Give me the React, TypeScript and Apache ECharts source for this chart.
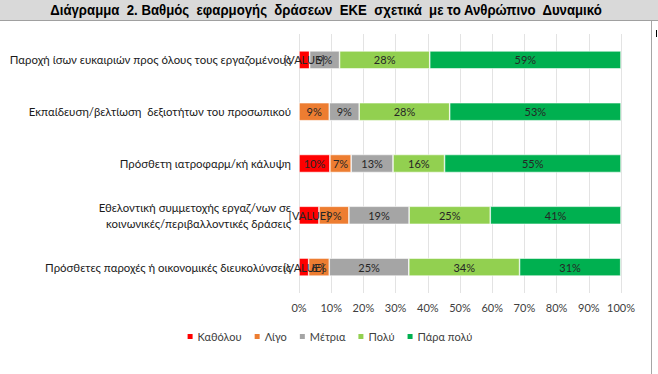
import React, { useEffect, useRef } from "react";
import * as echarts from "echarts";

const titleText = "Διάγραμμα  2. Βαθμός  εφαρμογής  δράσεων  ΕΚΕ  σχετικά  με το Ανθρώπινο  Δυναμικό";

const categories = [
  "Παροχή ίσων ευκαιριών προς όλους τους εργαζομένους",
  "Εκπαίδευση/βελτίωση  δεξιοτήτων του προσωπικού",
  "Πρόσθετη ιατροφαρμ/κή κάλυψη",
  "Εθελοντική συμμετοχής εργαζ/νων σε\nκοινωνικές/περιβαλλοντικές δράσεις",
  "Πρόσθετες παροχές ή οικονομικές διευκολύνσεις",
];

const seriesNames = ["Καθόλου", "Λίγο", "Μέτρια", "Πολύ", "Πάρα πολύ"];
const seriesColors = ["#FF0000", "#ED7D31", "#A5A5A5", "#92D050", "#00B050"];

const katholou = [3.3, 0, 9.6, 6.2, 3.0];
const ligo = [0, 9.4, 6.6, 9.3, 6.4];
const metria = [9.3, 9.3, 13.0, 18.7, 24.7];
const poly = [28.0, 28.1, 16.0, 25.2, 34.4];
const paraPoly = [59.4, 53.2, 54.8, 40.6, 31.4];

// Labels as they appear in the source (some show an unresolved "[VALUE]" field)
const katholouLabels = ["[VALUE]", "", "10%", "[VALUE]", "[VALUE]"];

const xTicks = [0, 10, 20, 30, 40, 50, 60, 70, 80, 90, 100];

const FONT = "Lato, 'Noto Sans', 'Liberation Sans', sans-serif";
const TITLE_FONT = "bold 15px 'Liberation Sans', Arial, sans-serif";

export default function App() {
  const ref = useRef<HTMLDivElement>(null);
  useEffect(() => {
    document.body.style.margin = "0";
    const chart = echarts.init(ref.current!, null, { renderer: "svg" });

    // fit title to the width it occupies in the reference (narrow bold face)
    let titleScale = 1;
    try {
      const ctx = document.createElement("canvas").getContext("2d")!;
      ctx.font = TITLE_FONT;
      const w = ctx.measureText(titleText).width;
      if (w > 0) titleScale = 553 / w;
    } catch (e) {}

    const allValues = [katholou, ligo, metria, poly, paraPoly];
    const series = allValues.map((vals, si) => ({
      name: seriesNames[si],
      type: "bar",
      stack: "total",
      barWidth: 18,
      itemStyle: { color: seriesColors[si], borderColor: "#ffffff", borderWidth: 0.6 },
      label: {
        show: true,
        position: "inside",
        color: "#262626",
        fontSize: 11,
        fontFamily: FONT,
        formatter: (p: any) => {
          if (si === 0) return katholouLabels[p.dataIndex];
          if (!p.value) return "";
          return Math.round(p.value) + "%";
        },
      },
      labelLayout: { hideOverlap: false },
      data: vals,
    }));

    chart.setOption({
      animation: false,
      backgroundColor: "#ffffff",
      textStyle: { fontFamily: FONT },
      grid: { left: 299, right: 37, top: 34, height: 259, containLabel: false },
      xAxis: {
        type: "value",
        min: 0,
        max: 100,
        interval: 10,
        axisLine: { show: false },
        axisTick: { show: false },
        splitLine: { show: true, lineStyle: { color: "#e3e3e3", width: 1 } },
        axisLabel: {
          color: "#404040",
          fontSize: 11,
          fontFamily: FONT,
          margin: 9,
          formatter: (v: number) => (xTicks.includes(v) ? v + "%" : ""),
        },
      },
      yAxis: {
        type: "category",
        inverse: true,
        data: categories,
        axisLine: { show: false },
        axisTick: { show: false },
        axisLabel: {
          color: "#1a1a1a",
          fontSize: 11.4,
          fontFamily: FONT,
          margin: 8,
          align: "right",
          lineHeight: 16,
        },
      },
      legend: {
        data: seriesNames,
        top: 326,
        left: "center",
        itemWidth: 7,
        itemHeight: 7,
        itemGap: 11,
        icon: "rect",
        textStyle: { color: "#404040", fontSize: 11, fontFamily: FONT, padding: [0, 0, 0, -1] },
      },
      graphic: [
        { type: "rect", shape: { x: 0, y: 0, width: 658, height: 20 }, style: { fill: "#d9d9d9" }, silent: true },
        { type: "line", shape: { x1: 0, y1: 20.5, x2: 658, y2: 20.5 }, style: { stroke: "#a0a0a0", lineWidth: 1 } },
        { type: "line", shape: { x1: 651.5, y1: 21, x2: 651.5, y2: 374 }, style: { stroke: "#a6a6a6", lineWidth: 1 } },
        { type: "line", shape: { x1: 656.5, y1: 30, x2: 656.5, y2: 37 }, style: { stroke: "#000000", lineWidth: 1 } },
        {
          type: "text",
          x: 326,
          y: 10,
          scaleX: titleScale,
          style: {
            text: titleText,
            fill: "#000000",
            font: TITLE_FONT,
            textAlign: "center",
            textVerticalAlign: "middle",
          },
        },
      ],
      series,
    });
    return () => chart.dispose();
  }, []);
  return <div ref={ref} style={{ position: "absolute", left: 0, top: 0, width: 658, height: 374 }} />;
}
